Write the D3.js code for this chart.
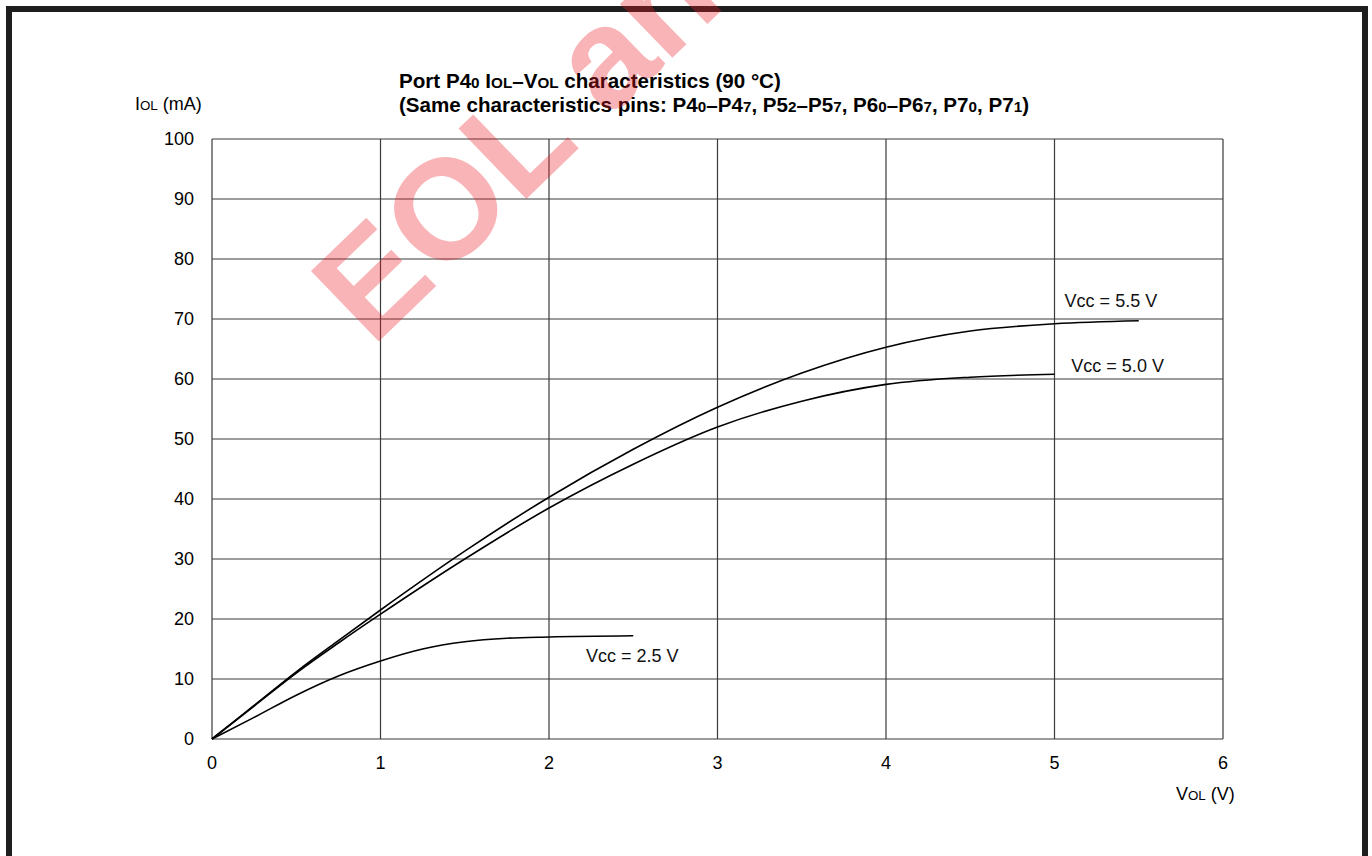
<!DOCTYPE html>
<html>
<head>
<meta charset="utf-8">
<script src="https://cdn.jsdelivr.net/npm/d3@7"></script>
<style>
  body { margin: 0; background: #fff; }
  svg { display: block; font-family: "Liberation Sans", Arial, sans-serif; }
</style>
</head>
<body>
<script>
// curve data: [V_OL (V), I_OL (mA)]
const vcc55 = [[0,0],[0.25,5.6],[0.5,11.2],[0.75,16.4],[1,21.5],[1.5,31.3],[2,40.3],[2.5,48.3],
  [3,55.3],[3.5,61],[4,65.3],[4.5,68],[5,69.2],[5.5,69.7]];
const vcc50 = [[0,0],[0.25,5.5],[0.5,11],[0.75,16],[1,20.8],[1.5,30],[2,38.5],[2.5,45.8],
  [3,52],[3.5,56.3],[4,59.1],[4.5,60.3],[5,60.8]];
const vcc25 = [[0,0],[0.25,3.6],[0.5,7.3],[0.75,10.5],[1,13],[1.25,15],[1.5,16.2],
  [1.75,16.8],[2,17],[2.5,17.2]];

const xTicks = [0,1,2,3,4,5,6];
const yTicks = [0,10,20,30,40,50,60,70,80,90,100];

// curve labels: text, anchor point in data units
const curveLabels = [
  {text: "Vcc = 5.5 V", x: 5.06, y: 72.0},
  {text: "Vcc = 5.0 V", x: 5.10, y: 61.2},
  {text: "Vcc = 2.5 V", x: 2.22, y: 12.9}
];

const width = 1372, height = 856;
const svg = d3.select("body").append("svg")
  .attr("width", width).attr("height", height);

const x = d3.scaleLinear().domain([0, 6]).range([212, 1223]);
const y = d3.scaleLinear().domain([0, 100]).range([739, 139]);

// grid lines
svg.append("g").selectAll("line.v")
  .data(xTicks)
  .join("line")
  .attr("x1", d => x(d)).attr("x2", d => x(d))
  .attr("y1", y(0)).attr("y2", y(100))
  .attr("stroke", "#3a3a3a").attr("stroke-width", 1.2);

svg.append("g").selectAll("line.h")
  .data(yTicks)
  .join("line")
  .attr("x1", x(0)).attr("x2", x(6))
  .attr("y1", d => y(d)).attr("y2", d => y(d))
  .attr("stroke", "#3a3a3a").attr("stroke-width", 1.2);

// tick labels
svg.append("g").selectAll("text")
  .data(yTicks)
  .join("text")
  .attr("x", 194).attr("y", d => y(d))
  .attr("dy", "0.35em")
  .attr("text-anchor", "end")
  .attr("font-size", 18)
  .text(d => d);

svg.append("g").selectAll("text")
  .data(xTicks)
  .join("text")
  .attr("x", d => x(d)).attr("y", 769)
  .attr("text-anchor", "middle")
  .attr("font-size", 18)
  .text(d => d);

// curves
const line = d3.line()
  .x(d => x(d[0])).y(d => y(d[1]))
  .curve(d3.curveMonotoneX);

svg.append("g").selectAll("path")
  .data([vcc55, vcc50, vcc25])
  .join("path")
  .attr("d", line)
  .attr("fill", "none")
  .attr("stroke", "#000")
  .attr("stroke-width", 1.6);

svg.append("g").selectAll("text")
  .data(curveLabels)
  .join("text")
  .attr("x", d => x(d.x)).attr("y", d => y(d.y))
  .attr("font-size", 18)
  .attr("fill", "#111")
  .text(d => d.text);

// text with small "subscript" parts on the same baseline
function richText(sel, parts, size) {
  parts.forEach(p => {
    sel.append("tspan")
      .attr("font-size", p[1] ? size * 0.74 : size)
      .text(p[0]);
  });
}

const yLab = svg.append("text").attr("x", 135).attr("y", 110).attr("font-size", 18);
richText(yLab, [["I"], ["OL", 1], [" (mA)"]], 18);

const xLab = svg.append("text").attr("x", 1176).attr("y", 800).attr("font-size", 18);
richText(xLab, [["V"], ["OL", 1], [" (V)"]], 18);

const titleSize = 20.6;
const t1 = svg.append("text").attr("x", 399).attr("y", 88)
  .attr("font-weight", "bold").attr("font-size", titleSize);
richText(t1, [["Port P4"], ["0", 1], [" I"], ["OL", 1], ["\u2013V"], ["OL", 1],
  [" characteristics (90 \u00b0C)"]], titleSize);

const t2 = svg.append("text").attr("x", 399).attr("y", 112)
  .attr("font-weight", "bold").attr("font-size", titleSize);
richText(t2, [["(Same characteristics pins: P4"], ["0", 1], ["\u2013P4"], ["7", 1],
  [", P5"], ["2", 1], ["\u2013P5"], ["7", 1], [", P6"], ["0", 1], ["\u2013P6"], ["7", 1],
  [", P7"], ["0", 1], [", P7"], ["1", 1], [")"]], titleSize);

// outer frame
svg.append("rect")
  .attr("x", 9).attr("y", 9)
  .attr("width", 1356).attr("height", 900)
  .attr("fill", "none")
  .attr("stroke", "#1e1e1e").attr("stroke-width", 6);

// watermark
svg.append("text")
  .attr("transform", "translate(372,348) rotate(-44)")
  .attr("font-size", 142)
  .attr("font-weight", "bold")
  .attr("fill", "#ee1c25")
  .attr("fill-opacity", 0.33)
  .text("EOL an");
</script>
</body>
</html>
